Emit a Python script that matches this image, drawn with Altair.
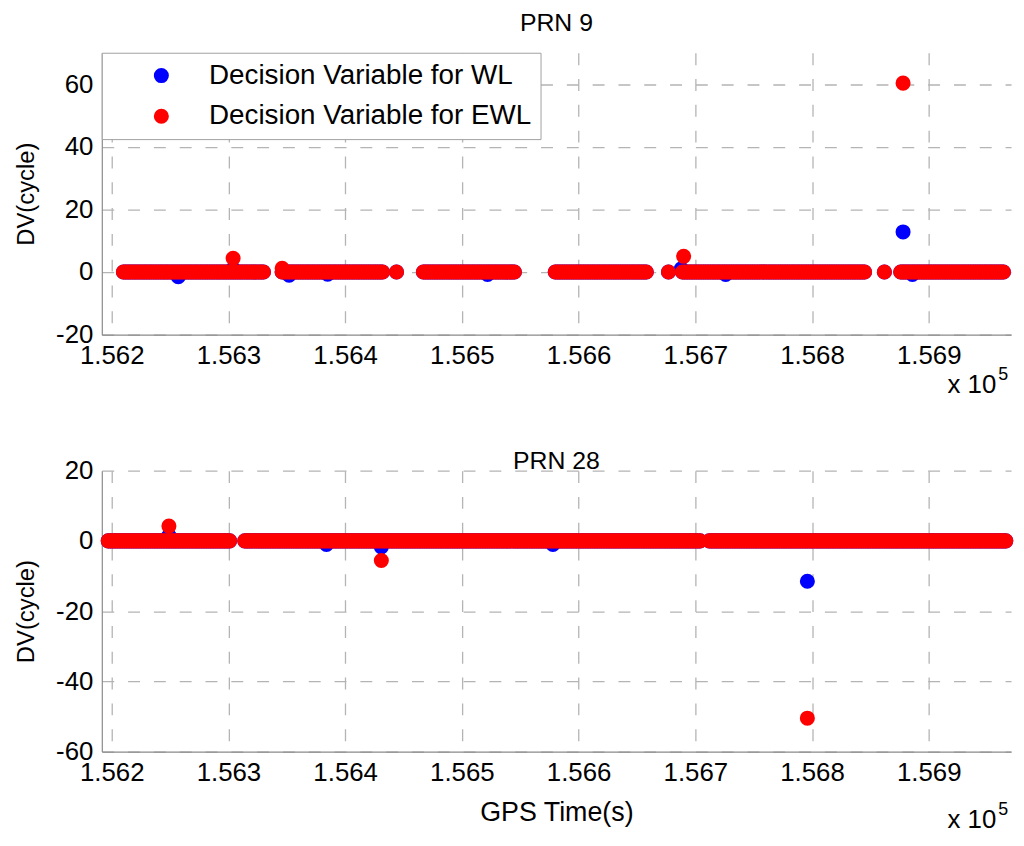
import altair as alt
import pandas as pd

FONT = "Liberation Sans"
WL = "Decision Variable for WL"
EWL = "Decision Variable for EWL"

# ---------------- PRN 9 (top panel) ----------------
# continuous arcs (GPS time, s) where both decision variables sit at ~0
prn9_arc_start = [156210, 156346, 156444, 156467, 156580, 156677, 156689, 156862, 156876]
prn9_arc_end = [156330, 156432, 156444, 156545, 156658, 156677, 156845, 156862, 156964]
# epochs where a decision variable departs from 0
prn9_wl_t = [156257, 156304, 156352, 156385, 156522, 156688, 156726, 156878, 156886]
prn9_wl_v = [-1.5, 1.0, -1.0, -0.7, -0.8, 1.0, -0.8, 12.8, -0.8]
prn9_ewl_t = [156304, 156346, 156690, 156878]
prn9_ewl_v = [4.4, 1.2, 5.0, 60.3]

# ---------------- PRN 28 (bottom panel) ----------------
prn28_arc_start = [156197, 156314, 156712]
prn28_arc_end = [156302, 156704, 156966]
prn28_wl_t = [156249, 156384, 156431, 156578, 156796]
prn28_wl_v = [1.5, -1.0, -1.7, -1.0, -11.5]
prn28_ewl_t = [156249, 156431, 156796]
prn28_ewl_v = [4.2, -5.6, -50.5]

sample_step = 2  # s, data interval along each arc

x_ticks = [156200, 156300, 156400, 156500, 156600, 156700, 156800, 156900]
x_domain = [156191.5, 156970.5]
prn9_y_domain = [-20, 70]
prn9_y_ticks = [-20, 0, 20, 40, 60]
prn28_y_domain = [-60, 20]
prn28_y_ticks = [-60, -40, -20, 0, 20]


def build(starts, ends, wl_t, wl_v, ewl_t, ewl_v):
    wl_rows, ewl_rows = [], []
    for s, e in zip(starts, ends):
        t = s
        while t <= e:
            wl_rows.append({"t": t, "v": 0.0, "s": WL})
            ewl_rows.append({"t": t, "v": 0.0, "s": EWL})
            t += sample_step
    for t, v in zip(wl_t, wl_v):
        wl_rows.append({"t": t, "v": v, "s": WL})
    for t, v in zip(ewl_t, ewl_v):
        ewl_rows.append({"t": t, "v": v, "s": EWL})
    return pd.DataFrame(wl_rows + ewl_rows)


df9 = build(prn9_arc_start, prn9_arc_end, prn9_wl_t, prn9_wl_v, prn9_ewl_t, prn9_ewl_v)
df28 = build(prn28_arc_start, prn28_arc_end, prn28_wl_t, prn28_wl_v, prn28_ewl_t, prn28_ewl_v)

color_scale = alt.Scale(domain=[WL, EWL], range=["#0000ff", "#ff0000"])

GRID = dict(grid=True, gridDash=[12, 14], gridColor="#b4b4b4", gridWidth=1.3,
            ticks=False, domainColor="#8a8a8a", domainWidth=1.2,
            labelFont=FONT, labelFontSize=26, labelColor="black",
            titleFont=FONT, titleFontWeight="normal", titleColor="black")


def x_axis(title):
    kw = dict(GRID)
    kw.update(values=x_ticks, labelExpr="format(datum.value/100000, '.3f')",
              labelPadding=8, labelFlush=False, labelOverlap=False)
    if title:
        kw.update(title=title, titlePadding=14, titleFontSize=27)
    else:
        kw.update(title=None)
    return alt.Axis(**kw)


def y_axis(ticks):
    kw = dict(GRID)
    kw.update(values=ticks, labelExpr="'' + datum.value", title="DV(cycle)",
              titleFontSize=24, labelPadding=9, titlePadding=17,
              labelFlush=False, labelOverlap=False)
    return alt.Axis(**kw)


legend9 = alt.Legend(title=None, orient="none", legendX=0, legendY=0,
                     fillColor="white", strokeColor="#a0a0a0", padding=9,
                     symbolOffset=37, labelOffset=34, rowPadding=13,
                     labelFont=FONT, labelFontSize=28, labelColor="black",
                     labelExpr="datum.label + ' '",
                     symbolSize=230, symbolType="circle", symbolOpacity=1,
                     symbolStrokeWidth=0, labelLimit=600, cornerRadius=0)

exp_df = pd.DataFrame({"base": ["x 10"], "exp": ["5"]})


def panel(df, title, ydom, yticks, title_offset, xtitle, height, legend, exp_y):
    base = alt.Chart(df).mark_circle(size=230, opacity=1).encode(
        x=alt.X("t:Q", scale=alt.Scale(domain=x_domain, nice=False, zero=False), axis=x_axis(xtitle)),
        y=alt.Y("v:Q", scale=alt.Scale(domain=ydom, nice=False, zero=False), axis=y_axis(yticks)),
        color=alt.Color("s:N", scale=color_scale, legend=legend),
    )
    wl = base.transform_filter(alt.datum.s == WL)
    ewl = base.transform_filter(alt.datum.s == EWL)
    t_base = alt.Chart(exp_df).mark_text(align="left", baseline="alphabetic", font=FONT,
                                         fontSize=26, color="black").encode(
        x=alt.value(852), y=alt.value(exp_y), text="base:N")
    t_exp = alt.Chart(exp_df).mark_text(align="left", baseline="alphabetic", font=FONT,
                                        fontSize=18, color="black").encode(
        x=alt.value(903), y=alt.value(exp_y - 13), text="exp:N")
    return alt.layer(wl, ewl, t_base, t_exp).properties(
        width=916, height=height,
        title=alt.Title(title, font=FONT, fontSize=25, fontWeight="normal", color="black",
                        offset=title_offset),
    )


top = panel(df9, "PRN 9", prn9_y_domain, prn9_y_ticks, 16, None, 284, legend9, 343)
bottom = panel(df28, "PRN 28", prn28_y_domain, prn28_y_ticks, -16, "GPS Time(s)", 283, None, 360)

chart = alt.vconcat(top, bottom, spacing=51).resolve_scale(color="independent").properties(
    padding={"left": 6.5, "top": 0, "right": 2, "bottom": 0},
    background="white",
).configure_view(stroke=None)

chart.save("out.html", embed_options={"renderer": "svg", "actions": False})
